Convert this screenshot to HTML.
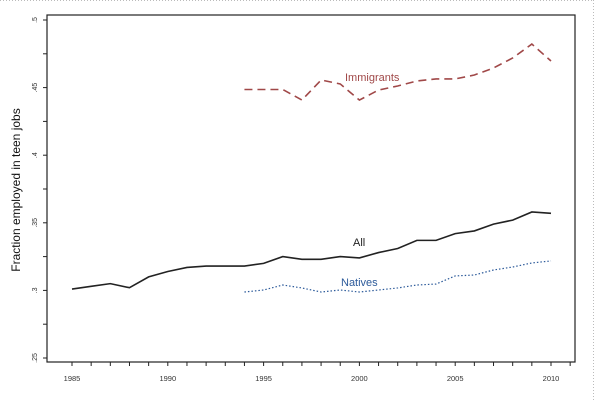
<!DOCTYPE html>
<html><head><meta charset="utf-8"><style>
body{margin:0;background:#fff;width:600px;height:402px;overflow:hidden}
svg{font-family:"Liberation Sans",sans-serif}
</style></head><body>
<svg id="c" width="600" height="402">
<line x1="0" y1="0.5" x2="594" y2="0.5" stroke="#bbb" stroke-dasharray="1,2"/>
<line x1="593.5" y1="0" x2="593.5" y2="402" stroke="#bbb" stroke-dasharray="1,2"/>
<rect x="47" y="15" width="528" height="347" fill="none" stroke="#222" stroke-width="1.2"/>
<text transform="translate(20,190) rotate(-90)" text-anchor="middle" font-size="12" fill="#111">Fraction employed in teen jobs</text>
<g id="g"></g>
</svg>
<script>
const years=[1985,1986,1987,1988,1989,1990,1991,1992,1993,1994,1995,1996,1997,1998,1999,2000,2001,2002,2003,2004,2005,2006,2007,2008,2009,2010];
const allVals=[.301,.303,.305,.302,.310,.314,.317,.318,.318,.318,.320,.325,.323,.323,.325,.324,.328,.331,.337,.337,.342,.344,.349,.352,.358,.357];
const subYears=[1994,1995,1996,1997,1998,1999,2000,2001,2002,2003,2004,2005,2006,2007,2008,2009,2010];
const immVals=[.4486,.4486,.4486,.4408,.4556,.4527,.4408,.4482,.4512,.4549,.4564,.4564,.4593,.4645,.4719,.4822,.4697];
const natVals=[.2988,.3003,.304,.3018,.2988,.3003,.2988,.3003,.3018,.304,.3047,.3107,.3114,.3151,.3173,.3203,.3218];
const yTicks=[.25,.3,.35,.4,.45,.5];
const yTickLabels=[".25",".3",".35",".4",".45",".5"];
const xTicks=[1985,1990,1995,2000,2005,2010];
const NS="http://www.w3.org/2000/svg";
const X=v=>72+(v-1985)*(551-72)/25;
const Y=v=>358-(v-.25)*(358-20)/.25;
const g=document.getElementById('g');
function el(t,a){const e=document.createElementNS(NS,t);for(const k in a)e.setAttribute(k,a[k]);g.appendChild(e);return e;}
for(let y=1985;y<=2011;y++){const e=el('line',{x1:X(y),x2:X(y),y1:362,y2:366,stroke:'#222'});

}
xTicks.forEach(t=>{const e=el('text',{x:X(t),y:381,'text-anchor':'middle','font-size':'7.5',fill:'#333'});e.textContent=t;

});
for(let v=.25;v<=.5001;v+=.025){const e=el('line',{x1:43,x2:47,y1:Y(v),y2:Y(v),stroke:'#222'});

}
yTicks.forEach((t,i)=>{const e=el('text',{transform:`translate(37,${Y(t)}) rotate(-90)`,'text-anchor':'middle','font-size':'7',fill:'#333'});e.textContent=yTickLabels[i];

});
function line(xs,vs,style,name){const p=el('polyline',Object.assign({points:xs.map((x,i)=>X(x)+','+Y(vs[i])).join(' '),fill:'none'},style));

}
line(years,allVals,{stroke:'#222','stroke-width':1.6},'all-line');
line(subYears,immVals,{stroke:'#a04848','stroke-width':1.6,'stroke-dasharray':'8,5'},'immigrants-line');
line(subYears,natVals,{stroke:'#2c5a9a','stroke-width':1.2,'stroke-dasharray':'1.5,2'},'natives-line');
function lab(x,y,t,c,n){const e=el('text',{x:x,y:y,'font-size':'11',fill:c});e.textContent=t;

}
lab(345,81,'Immigrants','#a04848','immigrants-label');
lab(353,246,'All','#222','all-label');
lab(341,286,'Natives','#2c5a9a','natives-label');
</script>
</body></html>
